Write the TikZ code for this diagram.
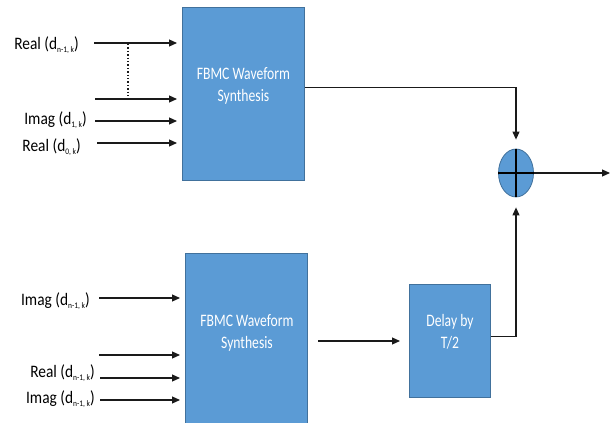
\documentclass[tikz,border=0pt]{standalone}
\usepackage{fontspec}
\setmainfont{Carlito}[FakeStretch=0.88]
\newfontfamily\boxfont{Carlito}[FakeStretch=0.78]
\usetikzlibrary{arrows.meta,shapes.geometric}
\definecolor{blockfill}{HTML}{5B9BD5}
\definecolor{blockedge}{HTML}{41719C}
\definecolor{wire}{HTML}{1A1A1A}
% d with a lowered small index
\newcommand\dsub[1]{d\raisebox{-3.5pt}{\fontsize{8.5}{9}\selectfont #1}}
\begin{document}
\begin{tikzpicture}[x=1pt,y=-1pt,
  block/.style={draw=blockedge,line width=0.8pt,fill=blockfill,inner sep=0pt,anchor=north west},
  blocktext/.style={text=white,align=center,font=\boxfont\fontsize{17.5}{21.5}\selectfont},
  inlabel/.style={anchor=east,inner sep=0pt,font=\fontsize{17.5}{20}\selectfont},
  wireline/.style={draw=wire,line width=1.1pt},
  sig/.style={wireline,-{Triangle[length=8pt,width=7pt]}}]
\useasboundingbox (0,0) rectangle (611,423);

% processing blocks
\node[block,minimum width=122pt,minimum height=173pt] (top) at (182,7) {};
\node[blocktext] (toptext) at ([yshift=8pt]top.center) {FBMC Waveform\\Synthesis};
\node[block,minimum width=122pt,minimum height=180pt] (bot) at (185,253) {};
\node[blocktext] (bottext) at (247,333) {FBMC Waveform\\Synthesis};
\node[block,minimum width=81pt,minimum height=113pt] (delay) at (409,284) {};
\node[blocktext] (delaytext) at (450,332) {Delay by\\T/2};

% summing junction
\node[ellipse,draw=blockedge,line width=0.8pt,fill=blockfill,minimum width=35pt,minimum height=48pt,inner sep=0pt] (sum) at (516,173) {};
\draw[line width=1.6pt,black] (sum.north) -- (sum.south);
\draw[line width=1.6pt,black] (sum.west) -- (sum.east);

% inputs of the upper block
\coordinate (a1) at (94,43);
\coordinate (a2) at (95,99);
\coordinate (a3) at (95,121);
\coordinate (a4) at (97,143);
\foreach \c in {a1,a2,a3,a4}
  \draw[sig,shorten >=5pt] (\c) -- (\c -| top.west);
\node[inlabel] (la1) at (79,45) {Real (\dsub{n-1, k})};
\node[inlabel] (la3) at (87,120) {Imag (\dsub{1, k})};
\node[inlabel] (la4) at (81,147) {Real (\dsub{0, k})};
\coordinate (dtop) at (128,44);
\coordinate (dbot) at (128,99);
\draw[wire,line width=1.4pt,dotted] (dtop) -- (dbot);

% inputs of the lower block
\coordinate (b1) at (99,298);
\coordinate (b2) at (99,355);
\coordinate (b3) at (100,378);
\coordinate (b4) at (100,400);
\foreach \c in {b1,b2,b3,b4}
  \draw[sig,shorten >=5pt] (\c) -- (\c -| bot.west);
\node[inlabel] (lb1) at (90,301) {Imag (\dsub{n-1, k})};
\node[inlabel] (lb3) at (95,373) {Real (\dsub{n-1, k})};
\node[inlabel] (lb4) at (95,399) {Imag (\dsub{n-1, k})};

% signal paths to the adder
\draw[sig,shorten >=9pt] ([yshift=6.5pt]top.east) -| (sum.north);
\coordinate (din) at (318,341);
\draw[sig,shorten >=9pt] (din) -- (din -| delay.west);
\draw[sig,shorten >=10pt] ([yshift=4.5pt]delay.east) -| (sum.south);
\coordinate (out) at (610,170);
\draw[sig] (sum.east) -- (sum.east -| out);
\end{tikzpicture}
\end{document}
